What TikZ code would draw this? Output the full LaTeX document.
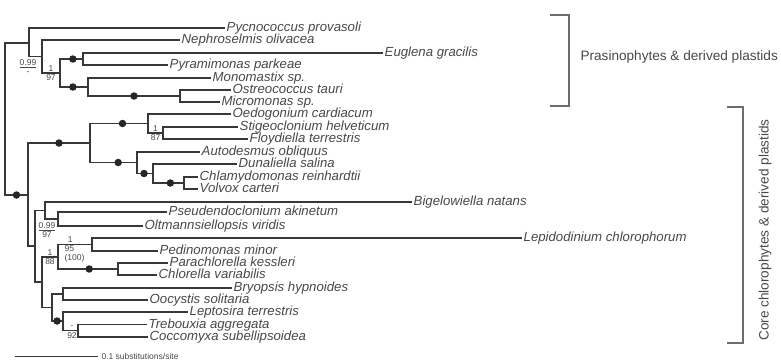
\documentclass[tikz,border=0pt]{standalone}
\usepackage{fontspec}
\setmainfont{Liberation Sans}
\usepackage{tikz}

\definecolor{treeline}{HTML}{383838}
\definecolor{treetext}{HTML}{484848}

\begin{document}
\begin{tikzpicture}[
  x=1pt, y=-1pt,
  taxon/.style={anchor=west, inner sep=1.5pt, text height=7pt, text depth=0pt, text=treetext, font=\fontsize{13.2}{14}\selectfont\itshape},
  branch/.style={draw=treeline, line width=1.3pt},
  support/.style={inner sep=1pt, text=treetext, font=\fontsize{8.5}{8.5}\selectfont},
  fullsup/.style={circle, fill=black!85, inner sep=0pt, minimum size=7.5pt},
  clade/.style={draw=treetext!80, line width=1.1pt},
  cladename/.style={text=treetext, font=\fontsize{13.6}{15}\selectfont}
]
\useasboundingbox (0,0) rectangle (781,360);

\coordinate (root) at (5,119);
\coordinate (prasin) at (29,43);
\coordinate (nephcl) at (42,56.5);
\coordinate (pyrcl) at (60,73);
\coordinate (eugcl) at (83,59);
\coordinate (mamcl) at (88,87);
\coordinate (ostcl) at (180,96);
\coordinate (core) at (28,195);
\coordinate (chlcl) at (90,143);
\coordinate (oedcl) at (148,123.5);
\coordinate (stigcl) at (163,133);
\coordinate (chlamcl) at (137,162.5);
\coordinate (dunacl) at (153,173.5);
\coordinate (volvcl) at (184,183);
\coordinate (ulvcl) at (35,246);
\coordinate (bigcl) at (45,210.5);
\coordinate (pseucl) at (58,219);
\coordinate (trebcl) at (42,282);
\coordinate (lepcl) at (58,257);
\coordinate (pedcl) at (92,244.5);
\coordinate (chlorcl) at (118,269);
\coordinate (tremcl) at (52,307.5);
\coordinate (bryocl) at (63,294);
\coordinate (leptcl) at (63,321);
\coordinate (coccl) at (78,330.5);

\node [taxon] (pycno) at (225,28) {Pycnococcus provasoli};
\node [taxon] (nephro) at (180,40) {Nephroselmis olivacea};
\node [taxon] (eugl) at (383,53) {Euglena gracilis};
\node [taxon] (pyram) at (168,65) {Pyramimonas parkeae};
\node [taxon] (monom) at (211,78) {Monomastix sp.};
\node [taxon] (ostreo) at (231,90) {Ostreococcus tauri};
\node [taxon] (micro) at (220,102) {Micromonas sp.};
\node [taxon] (oedo) at (231,114) {Oedogonium cardiacum};
\node [taxon] (stig) at (238,127) {Stigeoclonium helveticum};
\node [taxon] (floyd) at (248,139) {Floydiella terrestris};
\node [taxon] (autod) at (200,152) {Autodesmus obliquus};
\node [taxon] (dunal) at (237,164) {Dunaliella salina};
\node [taxon] (chlamy) at (198,177) {Chlamydomonas reinhardtii};
\node [taxon] (volvox) at (198,189) {Volvox carteri};
\node [taxon] (bigel) at (412,202) {Bigelowiella natans};
\node [taxon] (pseud) at (167,212) {Pseudendoclonium akinetum};
\node [taxon] (oltm) at (143,226) {Oltmannsiellopsis viridis};
\node [taxon] (lepid) at (522,238) {Lepidodinium chlorophorum};
\node [taxon] (pedino) at (158,251) {Pedinomonas minor};
\node [taxon] (parachl) at (168,263) {Parachlorella kessleri};
\node [taxon] (chlor) at (157,275) {Chlorella variabilis};
\node [taxon] (bryop) at (232,288) {Bryopsis hypnoides};
\node [taxon] (oocys) at (148,300) {Oocystis solitaria};
\node [taxon] (lepto) at (188,312) {Leptosira terrestris};
\node [taxon] (treb) at (147,324.5) {Trebouxia aggregata};
\node [taxon] (cocco) at (148,337) {Coccomyxa subellipsoidea};

\path [branch] (root) |- (prasin);
\path [branch] (root) |- node[fullsup, pos=0.75] (d1) {} (core);
\path [branch] (prasin) |- (pycno.west);
\path [branch] (prasin) |- (nephcl);
\path [branch] (nephcl) |- (nephro.west);
\path [branch] (nephcl) |- node[support, above, pos=0.75] (s1a) {1} node[support, below, pos=0.75] (s1b) {97} (pyrcl);
\path [branch] (pyrcl) |- node[fullsup, pos=0.78] (d2) {} (eugcl);
\path [branch] (pyrcl) |- node[fullsup, pos=0.73] (d3) {} (mamcl);
\path [branch] (eugcl) |- (eugl.west);
\path [branch] (eugcl) |- (pyram.west);
\path [branch] (mamcl) |- (monom.west);
\path [branch] (mamcl) |- node[fullsup, pos=0.75] (d4) {} (ostcl);
\path [branch] (ostcl) |- (ostreo.west);
\path [branch] (ostcl) |- (micro.west);

\path [branch] (core) |- node[fullsup, pos=0.75] (d5) {} (chlcl);
\path [branch] (core) |- (ulvcl);
\path [branch] (chlcl) |- node[fullsup, pos=0.78] (d6) {} (oedcl);
\path [branch] (chlcl) |- node[fullsup, pos=0.8] (d7) {} (chlamcl);
\path [branch] (oedcl) |- (oedo.west);
\path [branch] (oedcl) |- node[support, above, pos=0.75] (s2a) {1} node[support, below, pos=0.75] (s2b) {87} (stigcl);
\path [branch] (stigcl) |- (stig.west);
\path [branch] (stigcl) |- (floyd.west);
\path [branch] (chlamcl) |- (autod.west);
\path [branch] (chlamcl) |- node[fullsup, pos=0.72] (d8) {} (dunacl);
\path [branch] (dunacl) |- (dunal.west);
\path [branch] (dunacl) |- node[fullsup, pos=0.78] (d9) {} (volvcl);
\path [branch] (volvcl) |- (chlamy.west);
\path [branch] (volvcl) |- (volvox.west);

\path [branch] (ulvcl) |- (bigcl);
\path [branch] (ulvcl) |- (trebcl);
\path [branch] (bigcl) |- (bigel.west);
\path [branch] (bigcl) |- (pseucl);
\path [branch] (pseucl) |- (pseud.west);
\path [branch] (pseucl) |- (oltm.west);
\path [branch] (trebcl) |- node[support, above, pos=0.75] (s3a) {1} node[support, below, pos=0.75] (s3b) {88} (lepcl);
\path [branch] (trebcl) |- (tremcl);
\path [branch] (lepcl) |- node[support, above, pos=0.68] (s4a) {1} node[support, below right, pos=0.58, align=left, inner sep=0.5pt] (s4b) {95\\(100)} (pedcl);
\path [branch] (lepcl) |- node[fullsup, pos=0.76] (d10) {} (chlorcl);
\path [branch] (pedcl) |- (lepid.west);
\path [branch] (pedcl) |- (pedino.west);
\path [branch] (chlorcl) |- (parachl.west);
\path [branch] (chlorcl) |- (chlor.west);
\path [branch] (tremcl) |- (bryocl);
\path [branch] (tremcl) |- node[fullsup, pos=0.73] (d11) {} (leptcl);
\path [branch] (bryocl) |- (bryop.west);
\path [branch] (bryocl) |- (oocys.west);
\path [branch] (leptcl) |- (lepto.west);
\path [branch] (leptcl) |- node[support, above, pos=0.8] (s5a) {-} node[support, below, pos=0.8] (s5b) {92} (coccl);
\path [branch] (coccl) |- (treb.west);
\path [branch] (coccl) |- (cocco.west);

\node [support, align=center] (s6) at (28,67) {\underline{0.99}\\-};
\node [support, align=center] (s7) at (47,230) {\underline{0.99}\\97};

\coordinate (sb0) at (15,356);
\coordinate (sb1) at (98,356);
\path [branch, line width=1pt] (sb0) -- (sb1) node[support, right, inner sep=3pt] (sblab) {0.1 substitutions/site};

\coordinate (ptop) at (550,15);
\coordinate (pbot) at (550,106);
\path [clade] (ptop) -- ++(19,0) |- (pbot);
\node [cladename, anchor=west] (prasname) at (577,57) {Prasinophytes \& derived plastids};

\coordinate (ctop) at (727,107);
\coordinate (cbot) at (727,343);
\path [clade] (ctop) -- ++(16,0) |- (cbot);
\node [cladename, rotate=90] (corename) at (765,230) {Core chlorophytes \& derived plastids};
\end{tikzpicture}
\end{document}
